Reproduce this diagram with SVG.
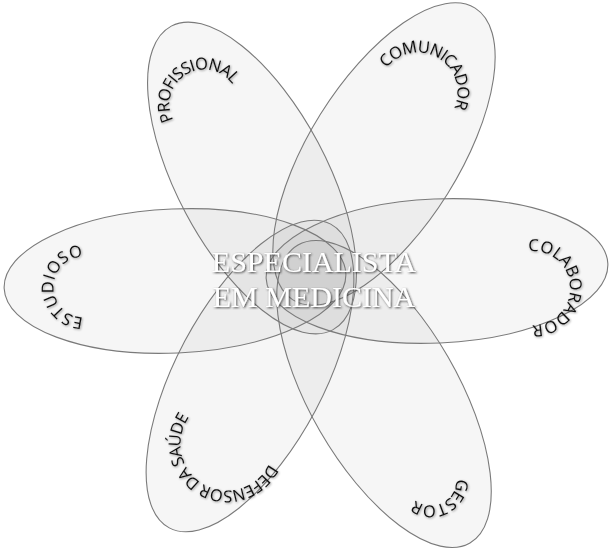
<svg xmlns="http://www.w3.org/2000/svg" width="609" height="551" viewBox="0 0 609 551">
  <defs>
    <filter id="centerShadow" x="-10%" y="-30%" width="120%" height="160%">
      <feDropShadow dx="1" dy="1" stdDeviation="1.3" flood-color="#333333" flood-opacity="0.95"/>
    </filter>
    <filter id="labelShadow" x="-10%" y="-30%" width="120%" height="160%">
      <feDropShadow dx="0.8" dy="0.8" stdDeviation="0.9" flood-color="#000000" flood-opacity="0.45"/>
    </filter>
    <path id="pProf" d="M193.34,136.81 A34.5,34.5 0 1 1 238.16,108.80"/>
    <path id="pCom" d="M379.10,98.86 A39.5,39.5 0 1 1 431.51,129.12"/>
    <path id="pCol" d="M507.77,260.94 A37,37 0 1 1 510.73,317.55"/>
    <path id="pEst" d="M103.61,310.36 A30.5,30.5 0 1 1 103.61,263.64"/>
    <path id="pGes" d="M440.56,456.36 A25.5,25.5 0 1 1 406.06,474.70"/>
    <path id="pDef" d="M272.79,435.93 A46.5,46.5 0 1 1 211.10,400.30"/>
  </defs>
  <style>
    .petal { fill: #8a8a8a; fill-opacity: 0.075; stroke: #7a7a7a; stroke-width: 1.1; }
    .label { font-family: "Open Sans", "Liberation Sans", sans-serif; font-size: 16.5px; letter-spacing: -0.8px; fill: #111111; filter: url(#labelShadow); }
    .center { font-family: "Liberation Serif", "DejaVu Serif", serif; font-size: 30px; fill: #ffffff; text-anchor: middle; filter: url(#centerShadow); }
  </style>
  <rect width="609" height="551" fill="#ffffff"/>

  <g id="profissional">
    <ellipse class="petal" cx="0" cy="0" rx="172" ry="75" transform="translate(252,178) rotate(-118)"/>
    <text class="label"><textPath href="#pProf" startOffset="50%" text-anchor="middle">PROFISSIONAL</textPath></text>
  </g>
  <g id="comunicador">
    <ellipse class="petal" cx="0" cy="0" rx="172" ry="75" transform="translate(384,154) rotate(-58)"/>
    <text class="label"><textPath href="#pCom" startOffset="50%" text-anchor="middle">COMUNICADOR</textPath></text>
  </g>
  <g id="colaborador">
    <ellipse class="petal" cx="0" cy="0" rx="171" ry="72" transform="translate(437,271) rotate(-2.5)"/>
    <text class="label" style="letter-spacing:0px"><textPath href="#pCol" startOffset="50%" text-anchor="middle">COLABORADOR</textPath></text>
  </g>
  <g id="gestor">
    <ellipse class="petal" cx="0" cy="0" rx="172" ry="74" transform="translate(384,394) rotate(60)"/>
    <text class="label"><textPath href="#pGes" startOffset="50%" text-anchor="middle">GESTOR</textPath></text>
  </g>
  <g id="defensor">
    <ellipse class="petal" cx="0" cy="0" rx="172" ry="74" transform="translate(250,376) rotate(118)"/>
    <text class="label"><textPath href="#pDef" startOffset="50%" text-anchor="middle">DEFENSOR DA SAÚDE</textPath></text>
  </g>
  <g id="estudioso">
    <ellipse class="petal" cx="0" cy="0" rx="171" ry="72" transform="translate(175,281) rotate(-2.5)"/>
    <text class="label" style="letter-spacing:0.4px"><textPath href="#pEst" startOffset="50%" text-anchor="middle">ESTUDIOSO</textPath></text>
  </g>

  <g id="especialista">
    <text class="center" x="314" y="272">ESPECIALISTA</text>
    <text class="center" x="314" y="307">EM MEDICINA</text>
  </g>
</svg>
